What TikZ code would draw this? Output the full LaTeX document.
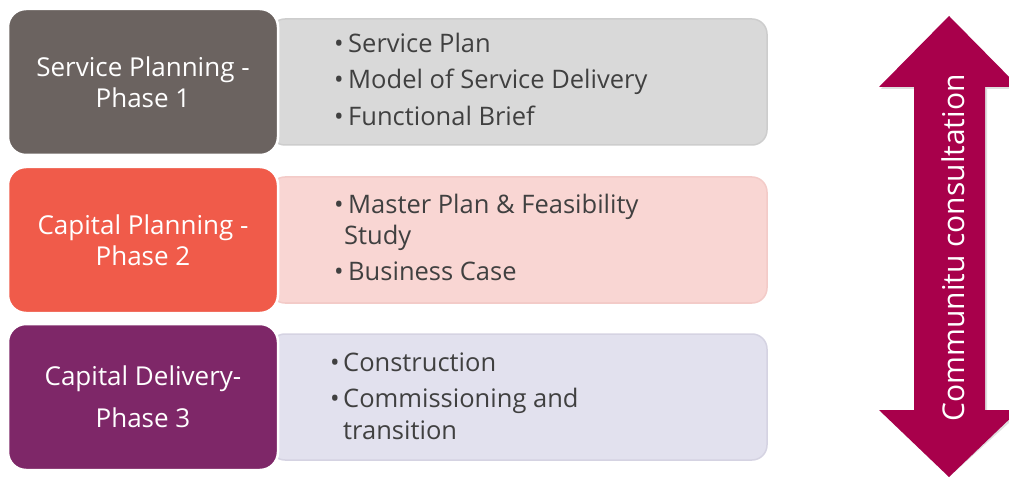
\documentclass[tikz,border=0pt]{standalone}
\usepackage{fontspec}
\setmainfont{Open Sans}
\definecolor{darkA}{HTML}{6B6360}
\definecolor{lightA}{HTML}{D9D9D9}
\definecolor{lineA}{HTML}{CDCDCD}
\definecolor{darkB}{HTML}{F05B4A}
\definecolor{lightB}{HTML}{F9D6D3}
\definecolor{lineB}{HTML}{F3CBC8}
\definecolor{darkC}{HTML}{7E2768}
\definecolor{lightC}{HTML}{E2E1EE}
\definecolor{lineC}{HTML}{D5D3E2}
\definecolor{arrowc}{HTML}{A8004B}
\definecolor{txt}{HTML}{404040}
\tikzset{
  phasebox/.style={rounded corners=18pt, draw=white, line width=2.5pt, minimum width=270pt, minimum height=146pt,
     text=white, align=center, font=\fontsize{26}{31}\selectfont},
  listbox/.style={rounded corners=15pt, line width=1.5pt, minimum width=497pt, minimum height=126pt},
  item/.style={anchor=base west, text=txt, inner sep=0pt, font=\fontsize{25.5}{31}\selectfont},
}
\newcommand{\bul}{\makebox[14pt][l]{•}}
\begin{document}
\begin{tikzpicture}[x=1pt,y=-1pt]
\useasboundingbox (0,0) rectangle (1009,478);
% list boxes
\node[listbox, fill=lightA, draw=lineA] (l1) at (518.5,82) {};
\node[listbox, fill=lightB, draw=lineB] (l2) at (518.5,240) {};
\node[listbox, fill=lightC, draw=lineC] (l3) at (518.5,397) {};
% phase boxes
\node[phasebox, fill=darkA] (p1) at (143,82) {Service Planning -\\Phase 1};
\node[phasebox, fill=darkB] (p2) at (143,240) {Capital Planning -\\Phase 2};
\node[phasebox, fill=darkC, font=\fontsize{26}{42}\selectfont] (p3) at (143,397) {Capital Delivery-\\Phase 3};
% items
\node[item] (a1) at (334,53) {\bul Service Plan};
\node[item] (a2) at (334,89) {\bul Model of Service Delivery};
\node[item] (a3) at (334,126) {\bul Functional Brief};
\node[item] (b1) at (334,214) {\bul Master Plan \& Feasibility};
\node[item] (b2) at (344,245) {Study};
\node[item] (b3) at (334,281) {\bul Business Case};
\node[item] (c1) at (330,371) {\makebox[13pt][l]{•}Construction};
\node[item] (c2) at (330,407) {\makebox[13pt][l]{•}Commissioning and};
\node[item] (c3) at (343,439) {transition};
% arrow
\coordinate (tipT) at (949,16);
\coordinate (tipB) at (949,477);
\fill[black!25, opacity=0.5, xshift=2pt, yshift=-2pt]
  (tipT) -- (1019,87) -- (985,87) -- (985,410) -- (1019,410) -- (tipB) -- (879,410) -- (914,410) -- (914,87) -- (879,87) -- cycle;
\fill[arrowc] (tipT) -- (1019,87) -- (985,87) -- (985,410) -- (1019,410) -- (tipB) -- (879,410) -- (914,410) -- (914,87) -- (879,87) -- cycle;
\node[rotate=90, text=white, font=\fontsize{30}{33}\selectfont] (cc) at (953,248) {Communitu consultation};
\end{tikzpicture}
\end{document}
